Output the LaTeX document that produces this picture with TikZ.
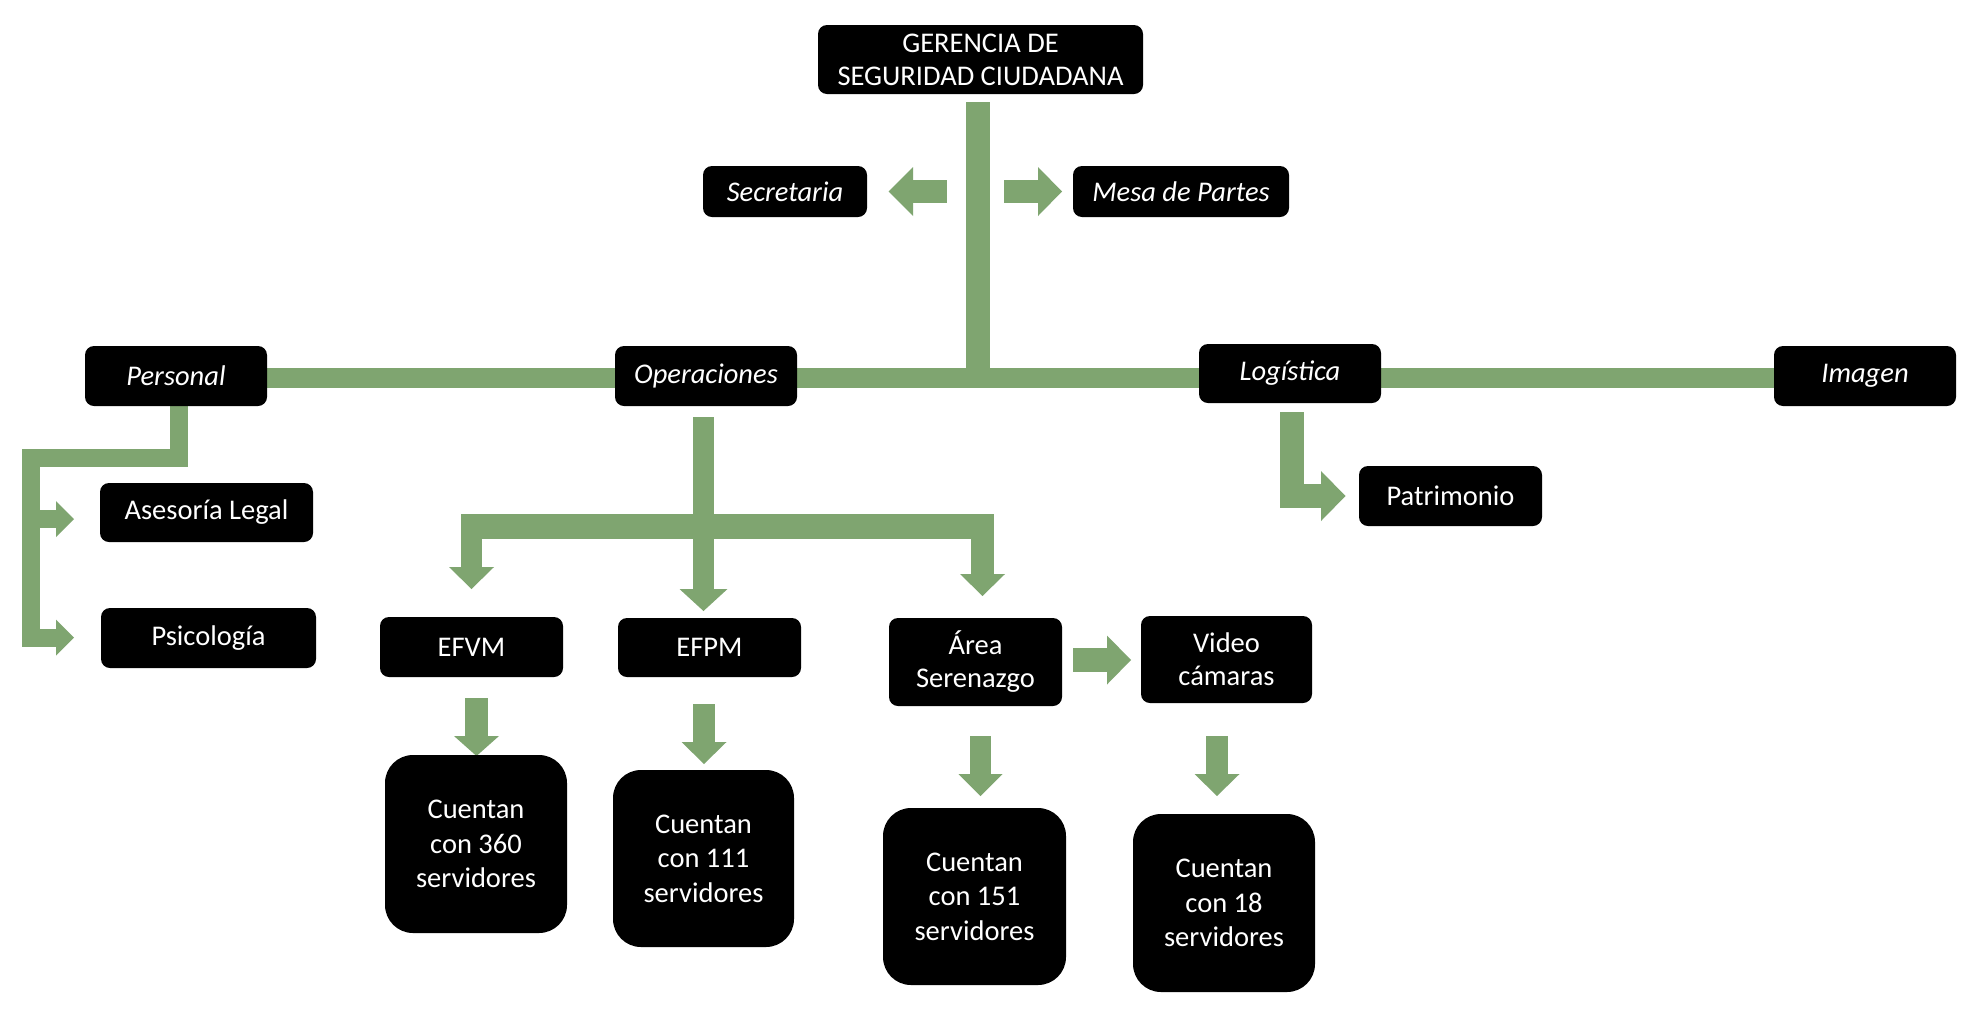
\documentclass[tikz,border=0pt]{standalone}
\usepackage{fontspec}
\setmainfont{Carlito}
\usetikzlibrary{arrows.meta,backgrounds}
\definecolor{grn}{RGB}{127,165,112}
\tikzset{
  box/.style={fill=black, text=white, rounded corners=9pt, inner sep=0pt, align=center,
    font=\fontsize{28.5}{33}\selectfont},
  tall/.style={box, rounded corners=28pt, font=\fontsize{28.5}{34.5}\selectfont},
  ital/.style={font=\fontsize{28.5}{33}\selectfont\itshape},
  bar/.style={draw=grn, line width=#1, line join=miter},
  tip/.style 2 args={-{Triangle[length=#1pt,width=#2pt,line width=0pt]}},
}
\begin{document}
\begin{tikzpicture}[x=1pt,y=-1pt]
\useasboundingbox (0,0) rectangle (1981,1021);
% nodes
\node[box, minimum width=325, minimum height=69] (ger) at (980.5,59.5) {GERENCIA DE\\SEGURIDAD CIUDADANA};
\node[box, ital, minimum width=164, minimum height=51] (sec) at (785,191.5) {Secretaria};
\node[box, ital, minimum width=216, minimum height=51] (mesa) at (1181,191.5) {Mesa de Partes};
\node[box, ital, minimum width=182, minimum height=60] (per) at (176,376) {Personal};
\node[box, ital, minimum width=182, minimum height=60] (ope) at (706,376) {Operaciones};
\node[box, ital, minimum width=182, minimum height=59] (log) at (1290,373.5) {Logística};
\node[box, ital, minimum width=182, minimum height=60] (ima) at (1865,376) {Imagen};
\node[box, minimum width=213, minimum height=59] (ase) at (206.5,512.5) {Asesoría Legal};
\node[box, minimum width=215, minimum height=60] (psi) at (208.5,638) {Psicología};
\node[box, minimum width=183, minimum height=60] (pat) at (1450.5,496) {Patrimonio};
\node[box, minimum width=183, minimum height=60] (efvm) at (471.5,647) {EFVM};
\node[box, minimum width=183, minimum height=59] (efpm) at (709.5,647.5) {EFPM};
\node[box, minimum width=173, minimum height=88] (ser) at (975.5,662) {Área\\Serenazgo};
\node[box, minimum width=171, minimum height=87] (vid) at (1226.5,659.5) {Video\\cámaras};
\node[tall, minimum width=182, minimum height=178] (c360) at (476,844) {Cuentan\\con 360\\servidores};
\node[tall, minimum width=181, minimum height=177] (c111) at (703.5,858.5) {Cuentan\\con 111\\servidores};
\node[tall, minimum width=183, minimum height=177] (c151) at (974.5,896.5) {Cuentan\\con 151\\servidores};
\node[tall, minimum width=182, minimum height=178] (c18) at (1224,903) {Cuentan\\con 18\\servidores};
% free ends of connectors
\coordinate (topS) at (978,102);
\coordinate (topE) at (978,387);
\coordinate (secS) at (946.5,191.5);
\coordinate (secT) at (888.5,191.5);
\coordinate (mesS) at (1004,191.5);
\coordinate (mesT) at (1062,191.5);
\coordinate (perS) at (178.5,406);
\coordinate (perA) at (178.5,458);
\coordinate (perB) at (30.5,458);
\coordinate (perC) at (30.5,637.5);
\coordinate (psiT) at (74,637.5);
\coordinate (aseS) at (30.5,519);
\coordinate (aseT) at (74,519);
\coordinate (opeS) at (703.5,417);
\coordinate (opeT) at (703.5,611);
\coordinate (hL) at (461,526.5);
\coordinate (hR) at (993,526.5);
\coordinate (efvS) at (471.5,514);
\coordinate (efvT) at (471.5,589);
\coordinate (serS) at (982.5,514);
\coordinate (serT) at (982.5,596);
\coordinate (logS) at (1291.5,412);
\coordinate (logA) at (1291.5,496);
\coordinate (patT) at (1345.5,496);
\coordinate (vidS) at (1073,660);
\coordinate (vidT) at (1131,660);
\coordinate (d1S) at (476.5,698);
\coordinate (d1T) at (476.5,756);
\coordinate (d2S) at (704,704);
\coordinate (d2T) at (704,764);
\coordinate (d3S) at (980.5,736);
\coordinate (d3T) at (980.5,796);
\coordinate (d4S) at (1217,736);
\coordinate (d4T) at (1217,796);
\begin{scope}[on background layer]
\fill[white] (0,0) rectangle (1981,1021);
\draw[bar=20pt] ([yshift=-2pt]per.east) -- ([yshift=-2pt]ima.west);
\draw[bar=24pt] (topS) -- (topE);
\draw[bar=23pt, tip={24.5}{49}] (secS) -- (secT);
\draw[bar=23pt, tip={24}{49}] (mesS) -- (mesT);
\draw[bar=18pt, tip={18}{36}] (perS) -- (perA) -- (perB) -- (perC) -- (psiT);
\draw[bar=18pt, tip={18}{36}] (aseS) -- (aseT);
\draw[bar=21pt, tip={22}{48}] (opeS) -- (opeT);
\draw[bar=25pt] (hL) -- (hR);
\draw[bar=21pt, tip={22}{45}] (efvS) -- (efvT);
\draw[bar=23pt, tip={22}{45}] (serS) -- (serT);
\draw[bar=24pt, tip={24.5}{50}] (logS) -- (logA) -- (patT);
\draw[bar=24pt, tip={24}{49}] (vidS) -- (vidT);
\draw[bar=23pt, tip={20}{45}] (d1S) -- (d1T);
\draw[bar=22pt, tip={22}{45}] (d2S) -- (d2T);
\draw[bar=21pt, tip={22}{44}] (d3S) -- (d3T);
\draw[bar=22pt, tip={22}{45}] (d4S) -- (d4T);
\end{scope}
\end{tikzpicture}
\end{document}
